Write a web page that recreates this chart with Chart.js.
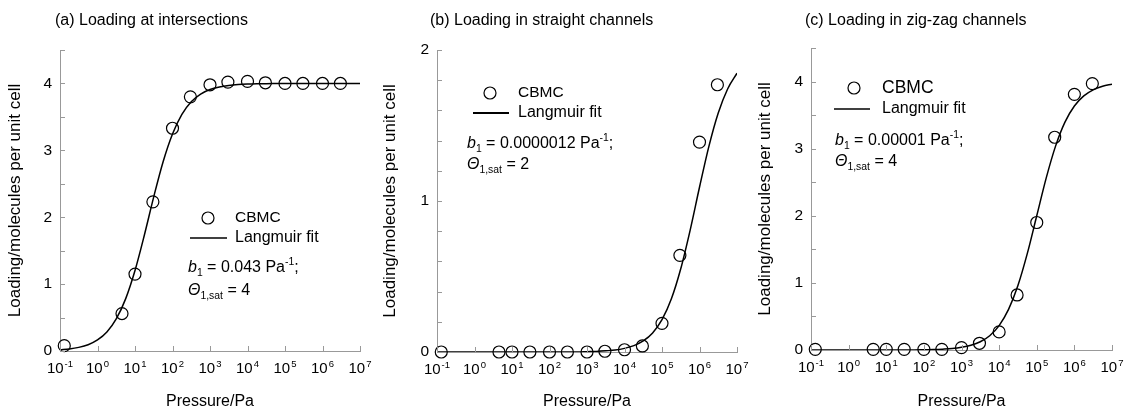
<!DOCTYPE html>
<html>
<head>
<meta charset="utf-8">
<script src="https://cdn.jsdelivr.net/npm/chart.js@4/dist/chart.umd.min.js"></script>
<style>
  body { margin: 0; background: #fff; width: 1124px; height: 411px; position: relative; overflow: hidden; }
  .panel { position: absolute; top: 0; height: 411px; }
</style>
</head>
<body>
<div class="panel" style="left:0"><canvas id="ca" width="375" height="411"></canvas></div>
<div class="panel" style="left:375px"><canvas id="cb" width="375" height="411"></canvas></div>
<div class="panel" style="left:750px"><canvas id="cc" width="374" height="411"></canvas></div>
<script>
// CBMC simulation points (pressure in Pa)
const pressure = [0.13, 4.5, 10, 30, 100, 300, 1e3, 3e3, 1e4, 3e4, 1e5, 3e5, 1e6, 3e6];
const cbmcIntersections = [0.08, 0.56, 1.15, 2.23, 3.33, 3.80, 3.98, 4.02, 4.03, 4.01, 4.00, 4.00, 4.00, 4.00];
const cbmcStraight = [0, 0, 0, 0, 0, 0, 0, 0.005, 0.015, 0.04, 0.19, 0.64, 1.39, 1.77];
const cbmcZigzag = [0.01, 0.01, 0.01, 0.01, 0.01, 0.01, 0.035, 0.10, 0.27, 0.82, 1.90, 3.17, 3.81, 3.97];

// Langmuir fit curves at quarter decades
const fitPressure = [0.1, 0.178, 0.316, 0.562, 1, 1.78, 3.16, 5.62, 10, 17.8, 31.6, 56.2,
  100, 178, 316, 562, 1e3, 1.78e3, 3.16e3, 5.62e3, 1e4, 1.78e4, 3.16e4, 5.62e4,
  1e5, 1.78e5, 3.16e5, 5.62e5, 1e6, 1.78e6, 3.16e6, 5.62e6, 1e7];
const fitIntersections = [0.017, 0.030, 0.054, 0.094, 0.165, 0.284, 0.479, 0.779, 1.203, 1.734, 2.305, 2.830,
  3.245, 3.538, 3.726, 3.841, 3.909, 3.948, 3.971, 3.984, 3.991, 3.995, 3.997, 3.998,
  3.999, 4, 4, 4, 4, 4, 4, 4, 4];
const fitStraight = [0, 0, 0, 0, 0, 0, 0, 0, 0, 0, 0, 0,
  0, 0, 0, 0, 0.002, 0.004, 0.008, 0.013, 0.024, 0.042, 0.073, 0.126,
  0.214, 0.352, 0.551, 0.806, 1.091, 1.362, 1.583, 1.742, 1.846];
const fitZigzag = [0, 0, 0, 0, 0, 0, 0, 0, 0, 0, 0, 0,
  0.004, 0.007, 0.013, 0.022, 0.040, 0.070, 0.123, 0.213, 0.364, 0.605, 0.960, 1.439,
  2.0, 2.561, 3.038, 3.396, 3.636, 3.787, 3.877, 3.930, 3.960];

// x tick labels: 10^exp
const xTickValues = [0.1, 1, 10, 100, 1e3, 1e4, 1e5, 1e6, 1e7];
const xTickExponents = ['-1', '0', '1', '2', '3', '4', '5', '6', '7'];

const FONT = "'Liberation Sans', Arial, Helvetica, sans-serif";
const AXIS_GRAY = '#999';

const panels = [
  {
    id: 'ca', title: '(a) Loading at intersections', cbmc: cbmcIntersections, fit: fitIntersections,
    yMax: 4.5, yStep: 0.5, b1: '0.043', sat: '4',
    area: { left: 60, right: 15, top: 50, bottom: 60 },
    leg: { cx: 208, cy: 218, tx: 235, lx1: 190, lx2: 227, ly: 238, ax: 188, ay1: 268, ay2: 291, cbmcSize: 15.5, lw: 1.3 }
  },
  {
    id: 'cb', title: '(b) Loading in straight channels', cbmc: cbmcStraight, fit: fitStraight,
    yMax: 2, yStep: 0.2, b1: '0.0000012', sat: '2',
    area: { left: 62, right: 13, top: 50, bottom: 59 },
    leg: { cx: 115, cy: 93, tx: 143, lx1: 98, lx2: 134, ly: 113, ax: 92, ay1: 144, ay2: 165, cbmcSize: 15.5, lw: 2 }
  },
  {
    id: 'cc', title: '(c) Loading in zig-zag channels', cbmc: cbmcZigzag, fit: fitZigzag,
    yMax: 4.5, yStep: 0.5, b1: '0.00001', sat: '4',
    area: { left: 61, right: 12, top: 48, bottom: 61 },
    leg: { cx: 104, cy: 88, tx: 132, lx1: 84, lx2: 120, ly: 109, ax: 85, ay1: 141, ay2: 162, cbmcSize: 17.5, lw: 1.3 }
  }
];

// draw a run of text pieces: {t, it (italic), sh ('sub'|'sup')}
function drawRuns(ctx, x, y, runs, baseSize) {
  ctx.textBaseline = 'middle';
  ctx.textAlign = 'left';
  runs.forEach(r => {
    const size = r.sh ? baseSize * 0.65 : baseSize;
    ctx.font = (r.it ? 'italic ' : '') + size + 'px ' + FONT;
    let dy = 0;
    if (r.sh === 'sub') dy = baseSize * 0.35;
    if (r.sh === 'sup') dy = -baseSize * 0.35;
    ctx.fillText(r.t, x, y + dy);
    x += ctx.measureText(r.t).width;
  });
}

const panelDecor = {
  id: 'panelDecor',
  afterDraw(chart, args, opts) {
    const ctx = chart.ctx;
    const xs = chart.scales.x, ys = chart.scales.y;
    const a = chart.chartArea;
    ctx.save();
    // inward ticks
    ctx.strokeStyle = AXIS_GRAY;
    ctx.lineWidth = 1;
    ctx.beginPath();
    ys.ticks.forEach(t => {
      const py = Math.round(ys.getPixelForValue(t.value)) + 0.5;
      ctx.moveTo(a.left, py); ctx.lineTo(a.left + 5, py);
    });
    xTickValues.forEach(v => {
      const px = Math.round(xs.getPixelForValue(v)) + 0.5;
      ctx.moveTo(px, a.bottom); ctx.lineTo(px, a.bottom - 5);
    });
    ctx.stroke();

    // x tick labels with superscript exponents
    ctx.fillStyle = '#000';
    ctx.textBaseline = 'alphabetic';
    ctx.textAlign = 'left';
    xTickValues.forEach((v, i) => {
      const px = xs.getPixelForValue(v);
      ctx.font = '15px ' + FONT;
      const w1 = ctx.measureText('10').width;
      ctx.font = '9.5px ' + FONT;
      const w2 = ctx.measureText(xTickExponents[i]).width;
      const x0 = px - (w1 + 1 + w2) / 2;
      ctx.font = '15px ' + FONT;
      ctx.fillText('10', x0, a.bottom + 22);
      ctx.font = '9.5px ' + FONT;
      ctx.fillText(xTickExponents[i], x0 + w1 + 1, a.bottom + 16);
    });

    // panel title
    ctx.font = '16px ' + FONT;
    ctx.textBaseline = 'middle';
    ctx.fillText(opts.title, 55, 21);

    // legend
    const L = opts.leg;
    ctx.strokeStyle = '#000';
    ctx.lineWidth = 1.2;
    ctx.beginPath();
    ctx.arc(L.cx, L.cy, 6, 0, Math.PI * 2);
    ctx.stroke();
    ctx.lineWidth = L.lw;
    ctx.beginPath();
    ctx.moveTo(L.lx1, L.ly); ctx.lineTo(L.lx2, L.ly);
    ctx.stroke();
    ctx.font = L.cbmcSize + 'px ' + FONT;
    ctx.fillText('CBMC', L.tx, L.cy);
    ctx.font = '16px ' + FONT;
    ctx.fillText('Langmuir fit', L.tx, L.ly);

    // fit parameters
    drawRuns(ctx, L.ax, L.ay1, [
      { t: 'b', it: true }, { t: '1', sh: 'sub' }, { t: ' = ' + opts.b1 + ' Pa' }, { t: '-1', sh: 'sup' }, { t: ';' }
    ], 16);
    drawRuns(ctx, L.ax, L.ay2, [
      { t: '\u0398', it: true }, { t: '1,sat', sh: 'sub' }, { t: ' = ' + opts.sat }
    ], 16);
    ctx.restore();
  }
};

panels.forEach(p => {
  new Chart(document.getElementById(p.id), {
    type: 'scatter',
    data: {
      datasets: [
        {
          label: 'Langmuir fit',
          data: fitPressure.map((x, i) => ({ x, y: p.fit[i] })),
          showLine: true,
          borderColor: '#000',
          borderWidth: 1.5,
          pointRadius: 0,
          cubicInterpolationMode: 'monotone',
          order: 2
        },
        {
          label: 'CBMC',
          data: pressure.map((x, i) => ({ x, y: p.cbmc[i] })),
          pointRadius: 6,
          pointBorderWidth: 1.2,
          pointBorderColor: '#000',
          pointBackgroundColor: 'rgba(0,0,0,0)',
          clip: false,
          order: 1
        }
      ]
    },
    options: {
      responsive: false,
      animation: false,
      layout: { padding: { left: 0, right: p.area.right, top: p.area.top, bottom: 0 } },
      plugins: {
        legend: { display: false },
        tooltip: { enabled: false },
        panelDecor: { title: p.title, leg: p.leg, b1: p.b1, sat: p.sat }
      },
      scales: {
        x: {
          type: 'logarithmic',
          min: 0.1,
          max: 1e7,
          afterBuildTicks: s => { s.ticks = xTickValues.map(v => ({ value: v })); },
          afterFit: s => { s.height = p.area.bottom; },
          ticks: { display: false },
          grid: { display: false, drawTicks: false },
          border: { display: true, color: AXIS_GRAY, width: 1 },
          title: {
            display: true, text: 'Pressure/Pa', color: '#000',
            font: { family: FONT, size: 16 }, padding: { top: 0, bottom: 0 }
          }
        },
        y: {
          type: 'linear',
          min: 0,
          max: p.yMax,
          afterFit: s => { s.width = p.area.left; },
          ticks: {
            stepSize: p.yStep,
            padding: 8,
            color: '#000',
            font: { family: FONT, size: 15.5 },
            callback: v => Math.abs(v - Math.round(v)) < 1e-9 ? String(Math.round(v)) : ''
          },
          grid: { display: false, drawTicks: false },
          border: { display: true, color: AXIS_GRAY, width: 1 },
          title: {
            display: true, text: 'Loading/molecules per unit cell', color: '#000',
            font: { family: FONT, size: 17 }, padding: { top: 5, bottom: 0 }
          }
        }
      }
    },
    plugins: [panelDecor]
  });
});
</script>
</body>
</html>
